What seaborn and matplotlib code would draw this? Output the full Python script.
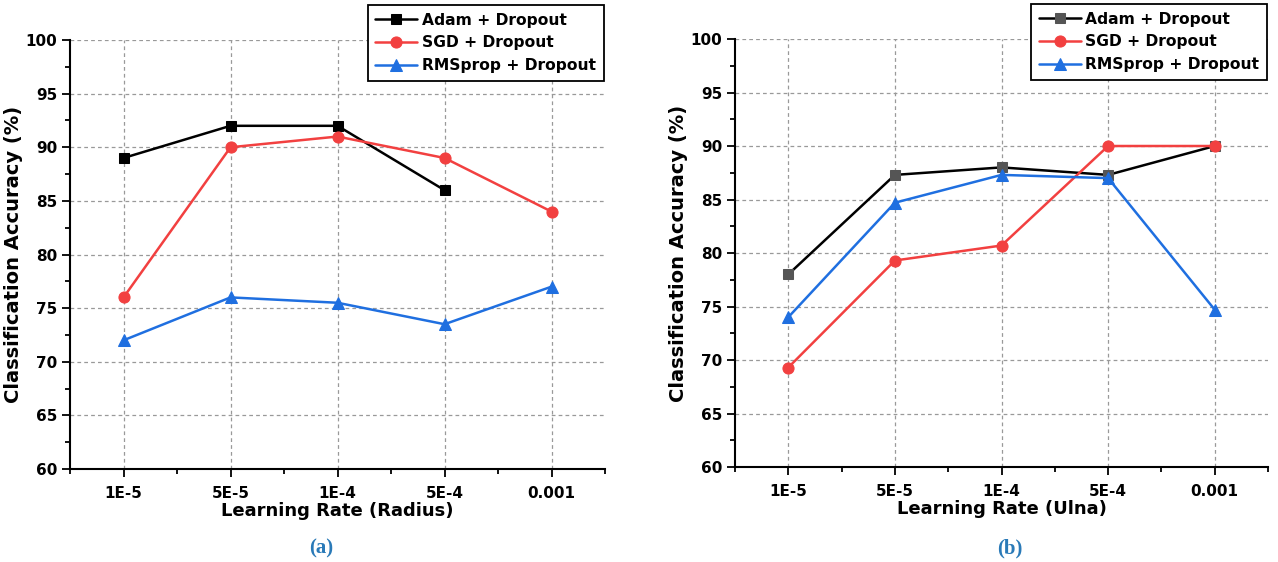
import numpy as np
import pandas as pd
import matplotlib
matplotlib.use("Agg")
import matplotlib.pyplot as plt
import seaborn as sns
from matplotlib.ticker import MultipleLocator, FixedLocator

rates = ["1E-5", "5E-5", "1E-4", "5E-4", "0.001"]
series_names = ["Adam + Dropout", "SGD + Dropout", "RMSprop + Dropout"]

# panel (a) - radius
radius_adam = [89, 92, 92, 86, np.nan]
radius_sgd = [76, 90, 91, 89, 84]
radius_rms = [72, 76, 75.5, 73.5, 77]

# panel (b) - ulna
ulna_adam = [78, 87.3, 88, 87.3, 90]
ulna_sgd = [69.3, 79.3, 80.7, 90, 90]
ulna_rms = [74, 84.7, 87.3, 87, 74.7]

sns.set_style("ticks")
plt.rcParams['font.family'] = ['DejaVu Sans']
plt.rcParams['font.weight'] = 'bold'
plt.rcParams['text.color'] = 'black'
plt.rcParams['axes.labelcolor'] = 'black'
plt.rcParams['xtick.color'] = 'black'
plt.rcParams['ytick.color'] = 'black'

fig = plt.figure(figsize=(12.78, 5.62), dpi=100)
ax1 = fig.add_axes([0.0548, 0.1655, 0.4186, 0.7633])
ax2 = fig.add_axes([0.5751, 0.1690, 0.4171, 0.7616])

line_colors = ["black", "#f24040", "#1f6fe0"]
markers = ["s", "o", "^"]
msizes = [7, 8, 8.5]


def draw(ax, vals, adam_face, xlabel):
    for name, v, c, m, ms in zip(series_names, vals, line_colors, markers, msizes):
        df = pd.DataFrame({"rate": rates, "acc": v}).dropna()
        mfc = adam_face if name.startswith("Adam") else c
        sns.lineplot(data=df, x="rate", y="acc", ax=ax, color=c, marker=m,
                     markersize=ms, markerfacecolor=mfc, markeredgecolor=mfc,
                     linewidth=1.8, label=name, sort=False)
    ax.set_xlim(-0.5, 4.5)
    ax.set_ylim(60, 100)
    ax.yaxis.set_major_locator(MultipleLocator(5))
    ax.yaxis.set_minor_locator(MultipleLocator(2.5))
    ax.xaxis.set_minor_locator(FixedLocator(np.arange(-0.5, 5, 1)))
    ax.tick_params(axis="both", which="major", labelsize=11, length=6, width=1.3,
                   colors="black")
    ax.tick_params(axis="x", which="major", pad=6)
    ax.tick_params(axis="y", which="major", pad=3)
    ax.tick_params(axis="both", which="minor", length=3.5, width=1.3, colors="black")
    for t in ax.get_xticklabels() + ax.get_yticklabels():
        t.set_fontweight("bold")
    ax.grid(True, which="major", linestyle=(0, (3, 2.5)), color="#999999", linewidth=0.9)
    for s in ["top", "right"]:
        ax.spines[s].set_visible(False)
    for s in ["left", "bottom"]:
        ax.spines[s].set_linewidth(1.5)
        ax.spines[s].set_color("black")
    ax.set_xlabel(xlabel, fontsize=13, fontweight="bold", labelpad=1)
    ax.set_ylabel("Classification Accuracy (%)", fontsize=14, fontweight="bold", labelpad=2)
    leg = ax.legend(loc="upper right", bbox_to_anchor=(0.998, 1.082), fontsize=11.2,
                    frameon=True, fancybox=False, edgecolor="black", framealpha=1,
                    handlelength=2.7, borderpad=0.5, labelspacing=0.5,
                    handletextpad=0.3, borderaxespad=0)
    leg.get_frame().set_linewidth(1.3)
    for t in leg.get_texts():
        t.set_fontweight("bold")
        t.set_color("black")


draw(ax1, [radius_adam, radius_sgd, radius_rms], "black", "Learning Rate (Radius)")
draw(ax2, [ulna_adam, ulna_sgd, ulna_rms], "#555555", "Learning Rate (Ulna)")

fig.text(0.251, 0.015, "(a)", family="Liberation Serif", fontweight="bold",
         fontsize=15, color="#2a7ab8", ha="center")
fig.text(0.790, 0.015, "(b)", family="Liberation Serif", fontweight="bold",
         fontsize=15, color="#2a7ab8", ha="center")

fig.savefig("out.png", dpi=100)
